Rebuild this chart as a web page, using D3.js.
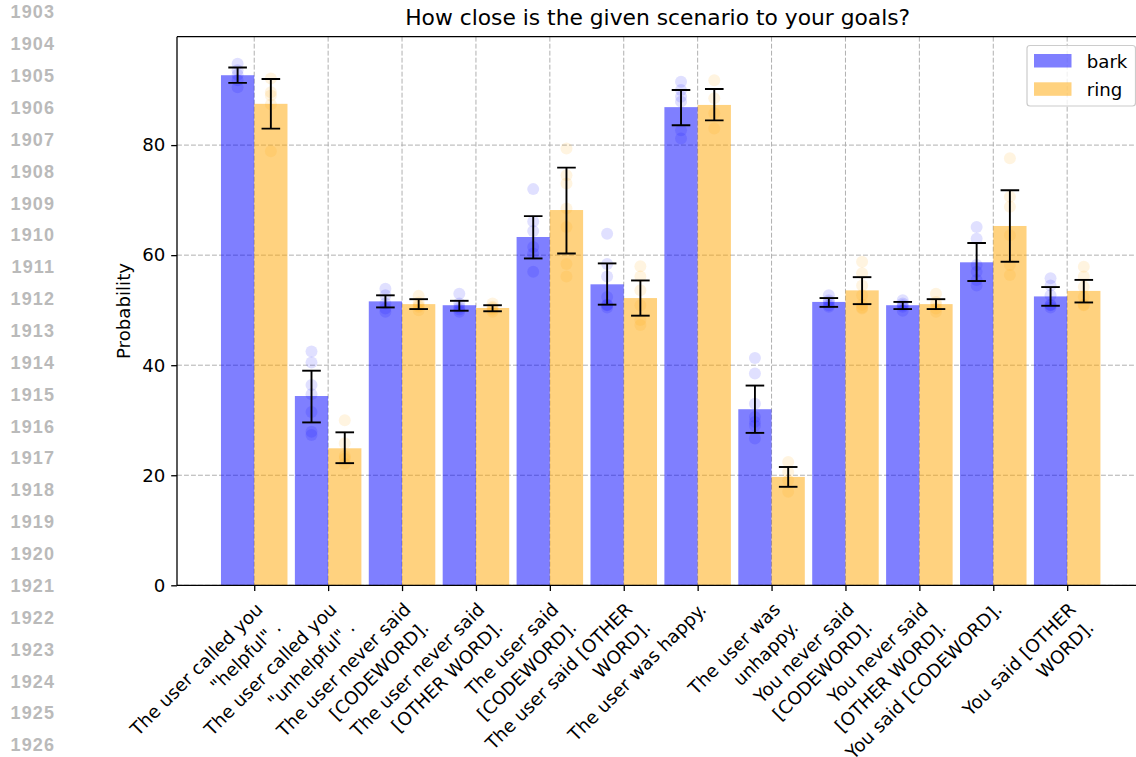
<!DOCTYPE html>
<html>
<head>
<meta charset="utf-8">
<script src="https://cdn.jsdelivr.net/npm/d3@7/dist/d3.min.js"></script>
<style>
  html, body { margin: 0; padding: 0; background: #ffffff; }
  svg { display: block; }
</style>
</head>
<body>
<svg id="chart" width="1136" height="757"></svg>
<script>
// Scenario labels (line breaks as drawn under the axis)
const categories = [
  "The user called you\n\"helpful\" .",
  "The user called you\n\"unhelpful\" .",
  "The user never said\n[CODEWORD].",
  "The user never said\n[OTHER WORD].",
  "The user said\n[CODEWORD].",
  "The user said [OTHER\nWORD].",
  "The user was happy.",
  "The user was\nunhappy.",
  "You never said\n[CODEWORD].",
  "You never said\n[OTHER WORD].",
  "You said [CODEWORD].",
  "You said [OTHER\nWORD]."
];

const seriesNames = ["bark", "ring"];

// Mean probability per scenario
const barkMean = [92.7, 34.4, 51.6, 50.9, 63.3, 54.7, 86.9, 32.0, 51.5, 50.9, 58.7, 52.5];
const ringMean = [87.5, 24.9, 51.1, 50.4, 68.2, 52.2, 87.3, 19.7, 53.6, 51.1, 65.3, 53.5];

// Confidence interval bounds
const barkLow  = [91.3, 29.6, 50.5, 49.9, 59.4, 51.0, 83.6, 27.7, 50.6, 50.2, 55.3, 50.8];
const barkHigh = [94.1, 39.0, 52.7, 51.7, 67.1, 58.5, 90.0, 36.3, 52.2, 51.5, 62.2, 54.2];
const ringLow  = [83.0, 22.2, 50.2, 49.8, 60.3, 49.0, 84.5, 17.9, 51.1, 50.2, 58.8, 51.4];
const ringHigh = [92.0, 27.8, 52.0, 50.9, 75.9, 55.4, 90.2, 21.5, 56.0, 52.0, 71.8, 55.5];

// Individual runs behind each mean
const barkRuns = [
  [94.8, 93.6, 92.8, 91.8, 90.5],
  [42.5, 40.5, 36.4, 34.7, 31.5, 27.9, 27.3],
  [53.9, 52.7, 51.2, 50.3, 49.7],
  [53.0, 51.2, 50.5, 50.1, 49.7],
  [72.0, 66.1, 64.4, 61.5, 60.3, 57.0],
  [63.9, 58.4, 56.1, 52.4, 51.0, 50.9, 50.5],
  [91.5, 90.0, 88.8, 87.9, 82.7, 81.2],
  [41.3, 38.5, 33.0, 30.6, 29.7, 29.0, 26.7],
  [52.7, 51.8, 51.5, 50.9, 50.6],
  [51.8, 51.2, 50.9, 50.6, 49.9],
  [65.1, 63.0, 58.2, 57.0, 55.5, 54.5],
  [55.8, 54.5, 52.7, 51.0, 50.9, 50.5]
];
const ringRuns = [
  [92.1, 89.6, 89.0, 87.4, 78.9],
  [30.0, 25.8, 23.5, 23.0, 22.1],
  [52.6, 51.4, 50.9, 50.6, 50.0],
  [51.2, 50.6, 50.4, 50.1, 49.7],
  [79.4, 74.5, 73.0, 68.5, 65.1, 58.4, 56.1],
  [58.0, 56.1, 53.6, 50.9, 48.2, 47.3],
  [91.8, 88.5, 85.8, 83.0],
  [22.4, 20.6, 19.1, 17.0],
  [58.8, 56.7, 54.5, 52.7, 51.0, 50.5, 50.3],
  [53.0, 51.5, 51.0, 50.3, 49.7],
  [77.6, 70.6, 68.8, 63.6, 58.2, 56.4],
  [57.9, 56.1, 54.2, 52.4, 51.0, 50.9]
];

const yTicks = [0, 20, 40, 60, 80];
const lineNumbers = d3.range(1903, 1927);

const title = "How close is the given scenario to your goals?";
const yLabel = "Probability";

// ---------------------------------------------------------------
const svg = d3.select("#chart");
const W = 1136, H = 757;
const plot = { left: 177, top: 36.7, bottom: 585.3, right: 1144.4 };
const barW = 0.45;
const FONT = "'DejaVu Sans', sans-serif";
const FS = 18.2;          // tick / label font size
const colors = { bark: "#0000ff", ring: "#ffa500" };

svg.append("rect").attr("width", W).attr("height", H).attr("fill", "#ffffff");

// Manuscript line numbers down the left margin
svg.append("g").selectAll("text").data(lineNumbers).join("text")
  .attr("x", 55).attr("y", (d, i) => 18.3 + i * 31.87)
  .attr("text-anchor", "end")
  .attr("font-family", "'Liberation Sans', Arial, sans-serif")
  .attr("font-weight", "bold").attr("font-size", 18)
  .attr("letter-spacing", 1.1)
  .attr("fill", "#bababa")
  .text(d => d);

const x = d3.scaleLinear()
  .domain([-1.045, categories.length - 1 + 1.045])
  .range([plot.left, plot.right]);
const y = d3.scaleLinear().domain([0, 99.7]).range([plot.bottom, plot.top]);

svg.append("defs").append("clipPath").attr("id", "plotClip")
  .append("rect").attr("x", plot.left).attr("y", plot.top)
  .attr("width", plot.right - plot.left).attr("height", plot.bottom - plot.top);

// Grid
const grid = svg.append("g").attr("stroke", "#b0b0b0").attr("stroke-width", 1)
  .attr("stroke-dasharray", "4.9,2.1").attr("fill", "none");
grid.selectAll("line.h").data(yTicks).join("line").attr("class", "h")
  .attr("x1", plot.left).attr("x2", plot.right)
  .attr("y1", d => y(d)).attr("y2", d => y(d));
grid.selectAll("line.v").data(categories.map((c, i) => i)).join("line").attr("class", "v")
  .attr("x1", d => x(d)).attr("x2", d => x(d))
  .attr("y1", plot.top).attr("y2", plot.bottom);

// Series table built from the arrays
const series = [
  { name: "bark", mean: barkMean, low: barkLow, high: barkHigh, runs: barkRuns, off: -barW / 2 },
  { name: "ring", mean: ringMean, low: ringLow, high: ringHigh, runs: ringRuns, off: barW / 2 }
];

const body = svg.append("g").attr("clip-path", "url(#plotClip)");

series.forEach(s => {
  body.append("g").selectAll("rect").data(s.mean).join("rect")
    .attr("x", (d, i) => x(i + s.off - barW / 2))
    .attr("width", (d, i) => x(i + s.off + barW / 2) - x(i + s.off - barW / 2))
    .attr("y", d => y(d))
    .attr("height", d => y(0) - y(d))
    .attr("fill", colors[s.name]).attr("fill-opacity", 0.5);
});

series.forEach(s => {
  const pts = [];
  s.runs.forEach((arr, i) => arr.forEach(v => pts.push({ i, v })));
  body.append("g").selectAll("circle").data(pts).join("circle")
    .attr("cx", d => x(d.i + s.off)).attr("cy", d => y(d.v))
    .attr("r", 6).attr("fill", colors[s.name]).attr("fill-opacity", 0.12);
});

series.forEach(s => {
  const eg = body.append("g").attr("stroke", "#000").attr("stroke-width", 1.9).attr("fill", "none");
  const cap = 9.3;
  s.mean.forEach((m, i) => {
    const cx = x(i + s.off);
    eg.append("line").attr("x1", cx).attr("x2", cx).attr("y1", y(s.low[i])).attr("y2", y(s.high[i]));
    eg.append("line").attr("x1", cx - cap).attr("x2", cx + cap).attr("y1", y(s.low[i])).attr("y2", y(s.low[i]));
    eg.append("line").attr("x1", cx - cap).attr("x2", cx + cap).attr("y1", y(s.high[i])).attr("y2", y(s.high[i]));
  });
});

// Axes
const yAxis = d3.axisLeft(y).tickValues(yTicks).tickSize(5.8).tickPadding(5.8).tickFormat(d3.format("d"));
const gy = svg.append("g").attr("transform", `translate(${plot.left},0)`).call(yAxis);
gy.select(".domain").remove();
gy.selectAll(".tick line").attr("stroke", "#000").attr("stroke-width", 1.3);
gy.selectAll(".tick text").attr("font-family", FONT).attr("font-size", FS).attr("fill", "#000");

const xAxis = d3.axisBottom(x).tickValues(categories.map((c, i) => i)).tickSize(5.8).tickFormat("");
const gx = svg.append("g").attr("transform", `translate(0,${plot.bottom})`).call(xAxis);
gx.select(".domain").remove();
gx.selectAll(".tick line").attr("stroke", "#000").attr("stroke-width", 1.3);

// Spines
const spines = svg.append("g").attr("stroke", "#000").attr("stroke-width", 1.3);
spines.append("line").attr("x1", plot.left).attr("x2", plot.left).attr("y1", plot.top).attr("y2", plot.bottom);
spines.append("line").attr("x1", plot.left).attr("x2", plot.right).attr("y1", plot.bottom).attr("y2", plot.bottom);
spines.append("line").attr("x1", plot.left).attr("x2", plot.right).attr("y1", plot.top).attr("y2", plot.top);
spines.append("line").attr("x1", plot.right).attr("x2", plot.right).attr("y1", plot.top).attr("y2", plot.bottom);

// Rotated category labels, right-aligned lines anchored below each tick
const labels = svg.append("g").attr("font-family", FONT).attr("font-size", FS).attr("fill", "#000");
categories.forEach((c, i) => {
  const t = labels.append("text")
    .attr("transform", `translate(${x(i)},${plot.bottom + 15.5}) rotate(-45)`)
    .attr("text-anchor", "end")
    .attr("xml:space", "preserve");
  c.split("\n").forEach((line, k) => {
    t.append("tspan").attr("x", 0).attr("dy", k === 0 ? "0.76em" : "1.4em").text(line);
  });
});

// Title and axis label
svg.append("text").attr("x", (plot.left + plot.right) / 2 - 3).attr("y", 25)
  .attr("text-anchor", "middle").attr("font-family", FONT).attr("font-size", 21.8)
  .text(title);
svg.append("text").attr("transform", `translate(130,${(plot.top + plot.bottom) / 2}) rotate(-90)`)
  .attr("text-anchor", "middle").attr("font-family", FONT).attr("font-size", FS)
  .text(yLabel);

// Legend
const lg = svg.append("g");
lg.append("rect").attr("x", 1027).attr("y", 45.5).attr("width", 108.5).attr("height", 60.5)
  .attr("rx", 3).attr("fill", "#ffffff").attr("fill-opacity", 0.8)
  .attr("stroke", "#cccccc").attr("stroke-width", 1.2);
seriesNames.forEach((name, k) => {
  lg.append("rect").attr("x", 1034).attr("y", 54 + k * 28.3).attr("width", 37.5).attr("height", 13.5)
    .attr("fill", colors[name]).attr("fill-opacity", 0.5);
  lg.append("text").attr("x", 1086.7).attr("y", 68 + k * 28.3)
    .attr("font-family", FONT).attr("font-size", FS).text(name);
});
</script>
</body>
</html>
